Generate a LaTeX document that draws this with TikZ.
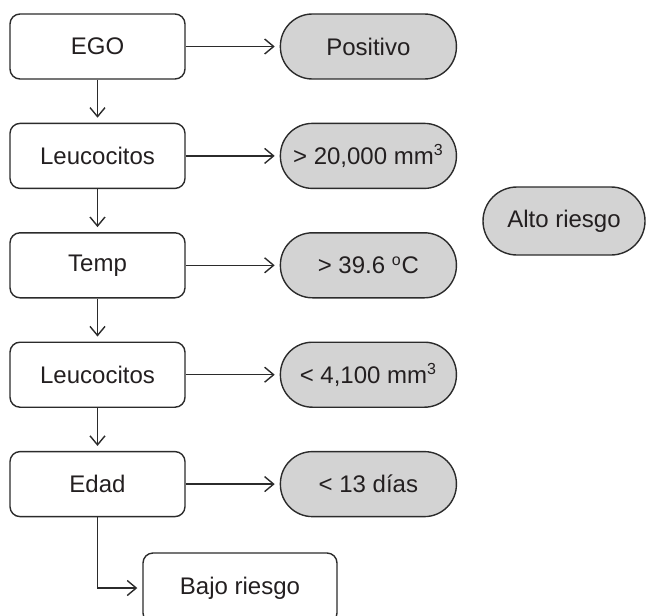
\documentclass[tikz,border=0pt]{standalone}
\usepackage{fontspec}
\setmainfont{Liberation Sans}
\usetikzlibrary{positioning, arrows.meta}
\definecolor{clrborder}{HTML}{2B2B2B}
\definecolor{clrtext}{HTML}{231F20}
\definecolor{clrresult}{HTML}{D3D3D3}

\begin{document}
\begin{tikzpicture}[
    x=0.5pt, y=-0.5pt,
    every node/.style={font=\fontsize{12}{14}\selectfont, text=clrtext},
    block/.style={draw=clrborder, rounded corners=5pt, minimum width=87.5pt,
                  minimum height=32.5pt, line width=0.7pt, inner sep=0pt},
    pill/.style={draw=clrborder, fill=clrresult, rounded corners=16pt, minimum width=88pt,
                 minimum height=32.5pt, line width=0.7pt, inner sep=0pt},
    arrow/.style={-{Straight Barb[length=4.5pt, width=7.5pt]}, color=clrborder, line width=0.7pt, shorten >=2.5pt},
]
\useasboundingbox (0,0) rectangle (646,615);
\node[block] (n_1) at (97.5,46.5) {EGO};
\node[block, below=21.5pt of n_1] (n_2) {Leucocitos};
\node[block, below=21.5pt of n_2] (n_3) {Temp};
\node[block, below=21.5pt of n_3] (n_4) {Leucocitos};
\node[block, below=21.5pt of n_4] (n_5) {Edad};
\node[pill, right=47pt of n_1] (r_1) {Positivo};
\node[pill, right=47pt of n_2] (r_2) {> 20,000 mm\textsuperscript{3}};
\node[pill, right=47pt of n_3] (r_3) {> 39.6 \textsuperscript{o}C};
\node[pill, right=47pt of n_4] (r_4) {< 4,100 mm\textsuperscript{3}};
\node[pill, right=47pt of n_5] (r_5) {< 13 días};
\node[pill, minimum width=81pt, minimum height=34pt, rounded corners=17pt] (r_6) at (564,221) {Alto riesgo};
\node[block, minimum width=97pt, minimum height=35pt] (n_6) at (240,588) {Bajo riesgo};
\draw[arrow] (n_1.east) -- (r_1.west);
\draw[arrow] (n_2.east) -- (r_2.west);
\draw[arrow] (n_3.east) -- (r_3.west);
\draw[arrow] (n_4.east) -- (r_4.west);
\draw[arrow] (n_5.east) -- (r_5.west);
\draw[arrow] (n_1.south) -- (n_2.north);
\draw[arrow] (n_2.south) -- (n_3.north);
\draw[arrow] (n_3.south) -- (n_4.north);
\draw[arrow] (n_4.south) -- (n_5.north);
\draw[arrow] (n_5.south) |- (n_6.west);
\end{tikzpicture}
\end{document}
